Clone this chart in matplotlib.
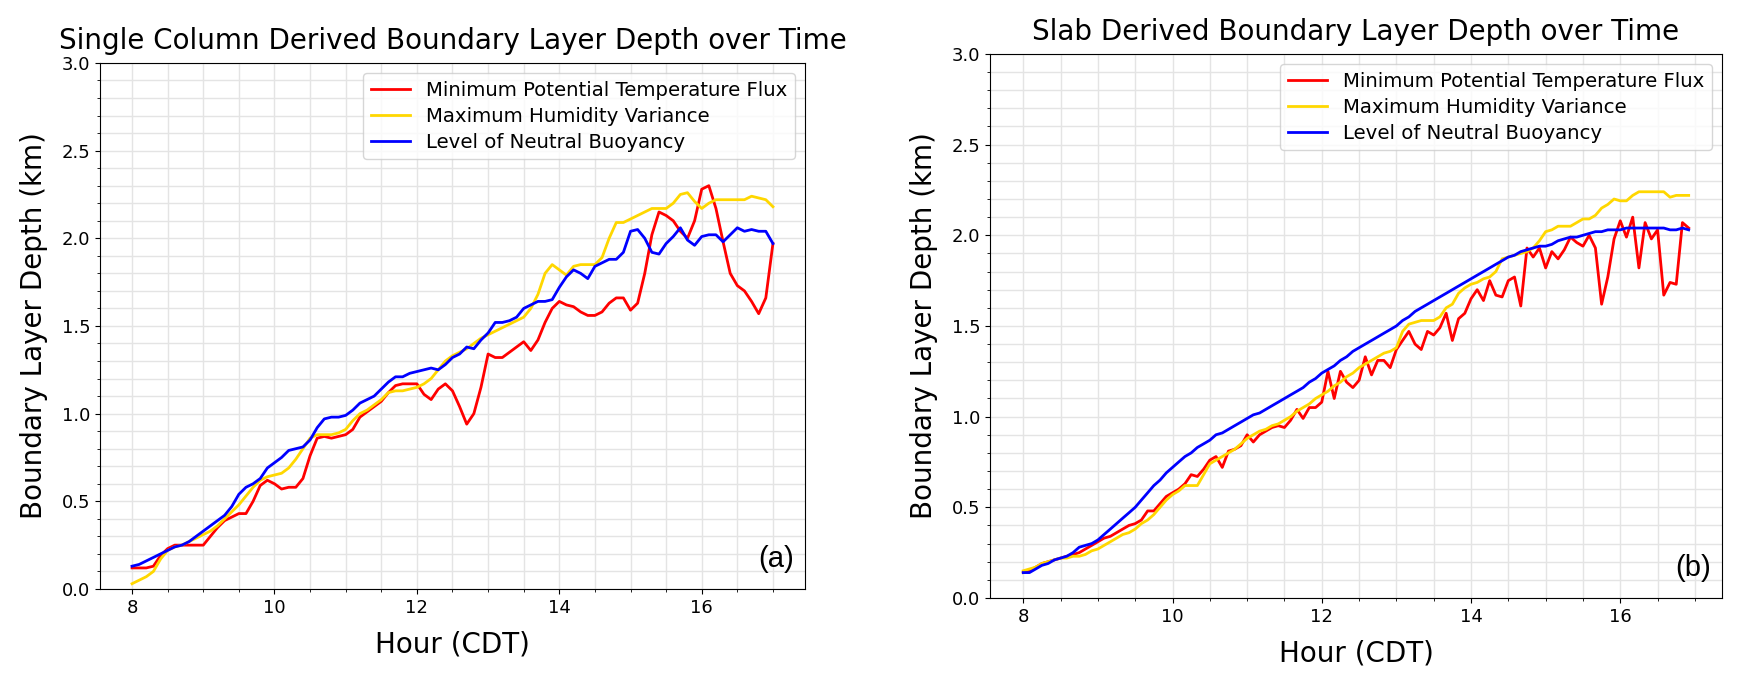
import matplotlib
matplotlib.use("Agg")
import matplotlib.pyplot as plt

# ---- panel (a): single column, 6-minute samples ----
hours_a = [8.0, 8.1, 8.2, 8.3, 8.4, 8.5, 8.6, 8.7, 8.8, 8.9,
           9.0, 9.1, 9.2, 9.3, 9.4, 9.5, 9.6, 9.7, 9.8, 9.9,
           10.0, 10.1, 10.2, 10.3, 10.4, 10.5, 10.6, 10.7, 10.8, 10.9,
           11.0, 11.1, 11.2, 11.3, 11.4, 11.5, 11.6, 11.7, 11.8, 11.9,
           12.0, 12.1, 12.2, 12.3, 12.4, 12.5, 12.6, 12.7, 12.8, 12.9,
           13.0, 13.1, 13.2, 13.3, 13.4, 13.5, 13.6, 13.7, 13.8, 13.9,
           14.0, 14.1, 14.2, 14.3, 14.4, 14.5, 14.6, 14.7, 14.8, 14.9,
           15.0, 15.1, 15.2, 15.3, 15.4, 15.5, 15.6, 15.7, 15.8, 15.9,
           16.0, 16.1, 16.2, 16.3, 16.4, 16.5, 16.6, 16.7, 16.8, 16.9,
           17.0]

theta_flux_a = [0.12, 0.12, 0.12, 0.13, 0.19, 0.23, 0.25, 0.25, 0.25, 0.25,
                0.25, 0.30, 0.35, 0.39, 0.41, 0.43, 0.43, 0.50, 0.59, 0.62,
                0.60, 0.57, 0.58, 0.58, 0.63, 0.76, 0.86, 0.87, 0.86, 0.87,
                0.88, 0.91, 0.98, 1.01, 1.04, 1.07, 1.12, 1.16, 1.17, 1.17,
                1.17, 1.11, 1.08, 1.14, 1.17, 1.13, 1.04, 0.94, 1.00, 1.15,
                1.34, 1.32, 1.32, 1.35, 1.38, 1.41, 1.36, 1.42, 1.52, 1.60,
                1.64, 1.62, 1.61, 1.58, 1.56, 1.56, 1.58, 1.63, 1.66, 1.66,
                1.59, 1.63, 1.80, 2.02, 2.15, 2.13, 2.10, 2.04, 2.00, 2.10,
                2.28, 2.30, 2.17, 1.98, 1.80, 1.73, 1.70, 1.64, 1.57, 1.66,
                1.97]

humidity_var_a = [0.03, 0.05, 0.07, 0.10, 0.17, 0.22, 0.24, 0.25, 0.27, 0.29,
                  0.31, 0.33, 0.36, 0.40, 0.44, 0.48, 0.53, 0.58, 0.62, 0.64,
                  0.65, 0.66, 0.69, 0.74, 0.80, 0.86, 0.88, 0.88, 0.88, 0.89,
                  0.91, 0.96, 1.00, 1.02, 1.05, 1.08, 1.12, 1.13, 1.13, 1.14,
                  1.15, 1.17, 1.20, 1.25, 1.30, 1.33, 1.35, 1.37, 1.40, 1.43,
                  1.45, 1.47, 1.49, 1.51, 1.53, 1.55, 1.60, 1.68, 1.80, 1.85,
                  1.82, 1.79, 1.84, 1.85, 1.85, 1.85, 1.89, 2.00, 2.09, 2.09,
                  2.11, 2.13, 2.15, 2.17, 2.17, 2.17, 2.20, 2.25, 2.26, 2.21,
                  2.17, 2.20, 2.22, 2.22, 2.22, 2.22, 2.22, 2.24, 2.23, 2.22,
                  2.18]

lnb_a = [0.13, 0.14, 0.16, 0.18, 0.20, 0.22, 0.24, 0.25, 0.27, 0.30,
         0.33, 0.36, 0.39, 0.42, 0.47, 0.54, 0.58, 0.60, 0.63, 0.69,
         0.72, 0.75, 0.79, 0.80, 0.81, 0.85, 0.92, 0.97, 0.98, 0.98,
         0.99, 1.02, 1.06, 1.08, 1.10, 1.14, 1.18, 1.21, 1.21, 1.23,
         1.24, 1.25, 1.26, 1.25, 1.28, 1.32, 1.34, 1.38, 1.37, 1.42,
         1.46, 1.52, 1.52, 1.53, 1.55, 1.60, 1.62, 1.64, 1.64, 1.65,
         1.72, 1.78, 1.82, 1.80, 1.77, 1.84, 1.86, 1.88, 1.88, 1.92,
         2.04, 2.05, 2.00, 1.92, 1.91, 1.97, 2.01, 2.06, 1.99, 1.96,
         2.01, 2.02, 2.02, 1.98, 2.02, 2.06, 2.04, 2.05, 2.04, 2.04,
         1.97]

# ---- panel (b): slab, 5-minute samples ----
hours_b = [8.0, 8.083, 8.167, 8.25, 8.333, 8.417, 8.5, 8.583, 8.667, 8.75, 8.833, 8.917,
           9.0, 9.083, 9.167, 9.25, 9.333, 9.417, 9.5, 9.583, 9.667, 9.75, 9.833, 9.917,
           10.0, 10.083, 10.167, 10.25, 10.333, 10.417, 10.5, 10.583, 10.667, 10.75, 10.833, 10.917,
           11.0, 11.083, 11.167, 11.25, 11.333, 11.417, 11.5, 11.583, 11.667, 11.75, 11.833, 11.917,
           12.0, 12.083, 12.167, 12.25, 12.333, 12.417, 12.5, 12.583, 12.667, 12.75, 12.833, 12.917,
           13.0, 13.083, 13.167, 13.25, 13.333, 13.417, 13.5, 13.583, 13.667, 13.75, 13.833, 13.917,
           14.0, 14.083, 14.167, 14.25, 14.333, 14.417, 14.5, 14.583, 14.667, 14.75, 14.833, 14.917,
           15.0, 15.083, 15.167, 15.25, 15.333, 15.417, 15.5, 15.583, 15.667, 15.75, 15.833, 15.917,
           16.0, 16.083, 16.167, 16.25, 16.333, 16.417, 16.5, 16.583, 16.667, 16.75, 16.833, 16.917]

theta_flux_b = [0.14, 0.15, 0.17, 0.19, 0.20, 0.21, 0.22, 0.23, 0.24, 0.25, 0.27, 0.29,
                0.31, 0.33, 0.34, 0.36, 0.38, 0.40, 0.41, 0.43, 0.48, 0.48, 0.52, 0.56,
                0.58, 0.60, 0.63, 0.68, 0.67, 0.71, 0.76, 0.78, 0.72, 0.81, 0.82, 0.84,
                0.90, 0.86, 0.90, 0.92, 0.94, 0.95, 0.94, 0.98, 1.04, 0.99, 1.05, 1.05,
                1.08, 1.25, 1.10, 1.25, 1.19, 1.16, 1.20, 1.33, 1.23, 1.31, 1.31, 1.27,
                1.37, 1.42, 1.47, 1.40, 1.37, 1.47, 1.45, 1.49, 1.57, 1.42, 1.54, 1.57,
                1.65, 1.70, 1.64, 1.75, 1.67, 1.66, 1.75, 1.77, 1.61, 1.93, 1.88, 1.93,
                1.82, 1.91, 1.87, 1.92, 1.99, 1.96, 1.94, 2.00, 1.93, 1.62, 1.77, 1.98,
                2.08, 1.99, 2.10, 1.82, 2.07, 1.98, 2.03, 1.67, 1.74, 1.73, 2.07, 2.04]

humidity_var_b = [0.15, 0.16, 0.17, 0.19, 0.20, 0.21, 0.22, 0.22, 0.23, 0.23, 0.24, 0.26,
                  0.27, 0.29, 0.31, 0.33, 0.35, 0.36, 0.38, 0.41, 0.43, 0.46, 0.50, 0.54,
                  0.57, 0.59, 0.62, 0.62, 0.62, 0.68, 0.74, 0.76, 0.78, 0.80, 0.82, 0.85,
                  0.88, 0.90, 0.92, 0.93, 0.95, 0.96, 0.98, 1.00, 1.03, 1.05, 1.07, 1.10,
                  1.12, 1.14, 1.17, 1.19, 1.22, 1.24, 1.27, 1.29, 1.31, 1.33, 1.35, 1.36,
                  1.38, 1.47, 1.51, 1.52, 1.53, 1.53, 1.53, 1.55, 1.60, 1.62, 1.68, 1.71,
                  1.73, 1.74, 1.76, 1.77, 1.80, 1.87, 1.88, 1.89, 1.90, 1.91, 1.93, 1.97,
                  2.02, 2.03, 2.05, 2.05, 2.05, 2.07, 2.09, 2.09, 2.11, 2.15, 2.17, 2.20,
                  2.19, 2.19, 2.22, 2.24, 2.24, 2.24, 2.24, 2.24, 2.21, 2.22, 2.22, 2.22]

lnb_b = [0.14, 0.14, 0.16, 0.18, 0.19, 0.21, 0.22, 0.23, 0.25, 0.28, 0.29, 0.30,
         0.32, 0.35, 0.38, 0.41, 0.44, 0.47, 0.50, 0.54, 0.58, 0.62, 0.65, 0.69,
         0.72, 0.75, 0.78, 0.80, 0.83, 0.85, 0.87, 0.90, 0.91, 0.93, 0.95, 0.97,
         0.99, 1.01, 1.02, 1.04, 1.06, 1.08, 1.10, 1.12, 1.14, 1.16, 1.19, 1.21,
         1.24, 1.26, 1.28, 1.31, 1.33, 1.36, 1.38, 1.40, 1.42, 1.44, 1.46, 1.48,
         1.50, 1.53, 1.55, 1.58, 1.60, 1.62, 1.64, 1.66, 1.68, 1.70, 1.72, 1.74,
         1.76, 1.78, 1.80, 1.82, 1.84, 1.86, 1.88, 1.89, 1.91, 1.92, 1.93, 1.94,
         1.94, 1.95, 1.97, 1.98, 1.99, 1.99, 2.00, 2.01, 2.02, 2.02, 2.03, 2.03,
         2.03, 2.04, 2.04, 2.04, 2.04, 2.04, 2.04, 2.04, 2.03, 2.03, 2.04, 2.03]

labels = ["Minimum Potential Temperature Flux",
          "Maximum Humidity Variance",
          "Level of Neutral Buoyancy"]
colors = ["red", "gold", "blue"]

titles = ["Single Column Derived Boundary Layer Depth over Time",
          "Slab Derived Boundary Layer Depth over Time"]
panel_tags = ["(a)", "(b)"]


def draw_panel(ax, hours, series, title, tag):
	for vals, lab, col in zip(series, labels, colors):
		ax.plot(hours, vals, color=col, linewidth=2, label=lab)
	ax.set_ylim(0, 3.0)
	ax.set_xticks([8, 10, 12, 14, 16])
	ax.minorticks_on()
	ax.grid(which="both", color="#e4e4e4", linewidth=1)
	ax.tick_params(labelsize=13)
	ax.set_title(title, fontsize=20, pad=10)
	ax.set_xlabel("Hour (CDT)", fontsize=20, labelpad=10)
	ax.set_ylabel("Boundary Layer Depth (km)", fontsize=20, labelpad=10)
	ax.legend(loc="upper right", fontsize=14.2, labelspacing=0.35)
	ax.text(0.985, 0.03, tag, transform=ax.transAxes, ha="right", va="bottom",
	        fontsize=21, family="Liberation Sans")


fig = plt.figure(figsize=(17.42, 6.82), dpi=100)
ax_a = fig.add_axes([0.0574, 0.1364, 0.4047, 0.7713])
ax_b = fig.add_axes([0.5683, 0.1232, 0.4202, 0.7977])

draw_panel(ax_a, hours_a, [theta_flux_a, humidity_var_a, lnb_a], titles[0], panel_tags[0])
draw_panel(ax_b, hours_b, [theta_flux_b, humidity_var_b, lnb_b], titles[1], panel_tags[1])

fig.savefig("out.png", dpi=100)
